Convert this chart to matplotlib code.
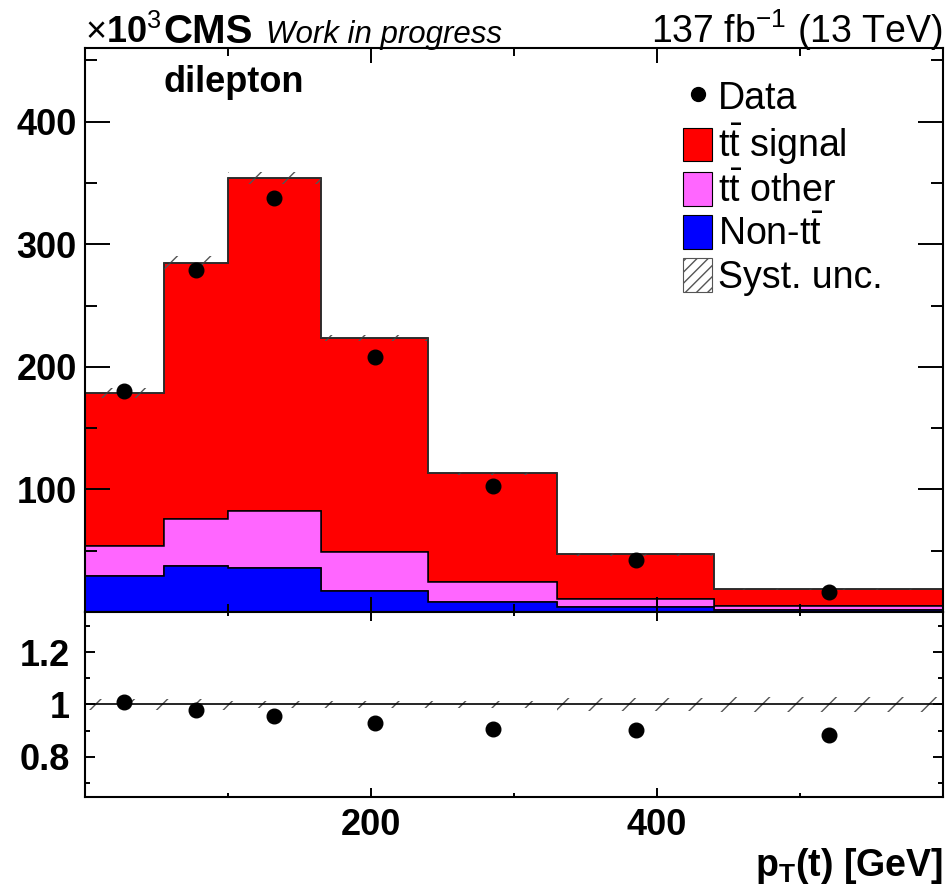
import matplotlib
matplotlib.use("Agg")
import matplotlib.pyplot as plt
from matplotlib.patches import Patch
from matplotlib.lines import Line2D
from matplotlib.ticker import MultipleLocator, FixedLocator
import numpy as np

plt.rcParams['font.family'] = ['Liberation Sans', 'DejaVu Sans']
plt.rcParams['mathtext.fontset'] = 'custom'
plt.rcParams['mathtext.rm'] = 'Liberation Sans'
plt.rcParams['mathtext.it'] = 'Liberation Sans:italic'
plt.rcParams['mathtext.bf'] = 'Liberation Sans:bold'
plt.rcParams['hatch.linewidth'] = 1.0
plt.rcParams['hatch.color'] = '#555555'

# pT(t) bin edges [GeV]
bin_edges = [0, 55, 100, 165, 240, 330, 440, 600]
# yields in units of 10^3 events
non_tt = [29.3, 37.5, 35.8, 17.0, 8.1, 4.0, 1.5]
tt_other = [24.4, 38.1, 46.2, 31.8, 16.3, 6.6, 3.4]
tt_signal = [125.2, 209.0, 271.7, 174.8, 88.6, 36.6, 13.8]
data = [180.5, 279.0, 337.5, 208.0, 102.5, 42.5, 16.5]
# relative systematic uncertainty of the prediction
syst_rel = [0.022, 0.02, 0.014, 0.012, 0.014, 0.025, 0.03]

edges = np.array(bin_edges, dtype=float)
centers = 0.5 * (edges[1:] + edges[:-1])
b1 = np.array(non_tt)
b2 = b1 + np.array(tt_other)
total = b2 + np.array(tt_signal)
dat = np.array(data)
unc = np.array(syst_rel)
ratio = dat / total

fig = plt.figure(figsize=(9.51, 8.88), dpi=100)
ax = fig.add_axes([0.0894, 0.3108, 0.9022, 0.6351])
ax2 = fig.add_axes([0.0894, 0.1025, 0.9022, 0.2083], sharex=ax)

lw = 1.1
ax.stairs(total, edges, baseline=b2, fill=True, facecolor='#ff0000', edgecolor='black', linewidth=lw)
ax.stairs(b2, edges, baseline=b1, fill=True, facecolor='#ff66ff', edgecolor='black', linewidth=lw)
ax.stairs(b1, edges, baseline=0, fill=True, facecolor='#0000ff', edgecolor='black', linewidth=lw)
ax.stairs(total * (1 + unc), edges, baseline=total * (1 - unc), fill=True,
          facecolor='none', edgecolor='#555555', hatch='/', linewidth=0)
ax.stairs(total, edges, baseline=None, color='#333333', linewidth=lw)
ax.plot(centers, dat, 'o', color='black', markersize=10.5)

ax2.stairs(1 + unc, edges, baseline=1 - unc, fill=True,
           facecolor='none', edgecolor='#555555', hatch='/', linewidth=0)
ax2.axhline(1.0, color='black', linewidth=1.2)
ax2.plot(centers, ratio, 'o', color='black', markersize=10.5)

ax.set_xlim(0, 600)
ax.set_ylim(0, 460)
ax2.set_ylim(0.645, 1.355)

ax.yaxis.set_major_locator(FixedLocator([100, 200, 300, 400]))
ax.yaxis.set_minor_locator(MultipleLocator(50))
ax2.xaxis.set_major_locator(FixedLocator([200, 400]))
ax2.xaxis.set_minor_locator(FixedLocator([100, 300, 500]))
ax2.yaxis.set_major_locator(FixedLocator([0.8, 1.0, 1.2]))
ax2.yaxis.set_minor_locator(FixedLocator([0.7, 0.9, 1.1, 1.3]))
ax2.yaxis.set_major_formatter(plt.FuncFormatter(lambda v, p: '%g' % v))

for a in (ax, ax2):
    for s in a.spines.values():
        s.set_linewidth(1.5)
    a.tick_params(which='both', direction='in', top=True, right=True, width=1.4, labelsize=26)

ax.tick_params(axis='y', which='major', length=18, pad=6)
ax.tick_params(axis='y', which='minor', length=8.6)
ax.tick_params(axis='x', which='major', length=10.8, labelbottom=False)
ax.tick_params(axis='x', which='minor', length=5.8)
ax2.tick_params(axis='y', which='major', length=7.2, pad=11)
ax2.tick_params(axis='y', which='minor', length=3.6)
ax2.tick_params(axis='x', which='major', length=6.5, pad=8)
ax2.tick_params(axis='x', which='minor', length=3)

for a in (ax, ax2):
    for t in a.get_xticklabels() + a.get_yticklabels():
        t.set_fontweight('bold')

ax2.set_xlabel(r'$\mathbf{p}_{\mathbf{T}}$(t) [GeV]', fontsize=27, fontweight='bold', loc='right', labelpad=2)

# header texts
fig.text(85 / 951, 1 - 43 / 888, r'$\times$10$^{3}$', fontsize=26, fontweight='bold', ha='left', va='baseline')
fig.text(163 / 951, 1 - 43 / 888, 'CMS', fontsize=29, fontweight='bold', ha='left', va='baseline')
fig.text(266 / 951, 1 - 43 / 888, 'Work in progress', fontsize=22.5, style='italic', ha='left', va='baseline')
fig.text(943 / 951, 1 - 43 / 888, r'137 fb$^{-1}$ (13 TeV)', fontsize=27, ha='right', va='baseline')
ax.text(0.091, 0.922, 'dilepton', transform=ax.transAxes, fontsize=26, fontweight='bold', ha='left', va='baseline')

handles = [
    Line2D([], [], marker='o', color='black', linestyle='none', markersize=10),
    Patch(facecolor='#ff0000', edgecolor='black', linewidth=0.8),
    Patch(facecolor='#ff66ff', edgecolor='black', linewidth=0.8),
    Patch(facecolor='#0000ff', edgecolor='black', linewidth=0.8),
    Patch(facecolor='white', edgecolor='#555555', hatch='///', linewidth=0.8),
]
labels = ['Data', r't$\bar{\mathrm{t}}$ signal', r't$\bar{\mathrm{t}}$ other',
          r'Non-t$\bar{\mathrm{t}}$', 'Syst. unc.']
ax.legend(handles, labels, loc='upper left', bbox_to_anchor=(0.697, 0.945), frameon=False,
          fontsize=27, handlelength=0.78, handleheight=1.0, handletextpad=0.16,
          labelspacing=0.14, borderpad=0, borderaxespad=0)

fig.savefig('out.png', dpi=100)
